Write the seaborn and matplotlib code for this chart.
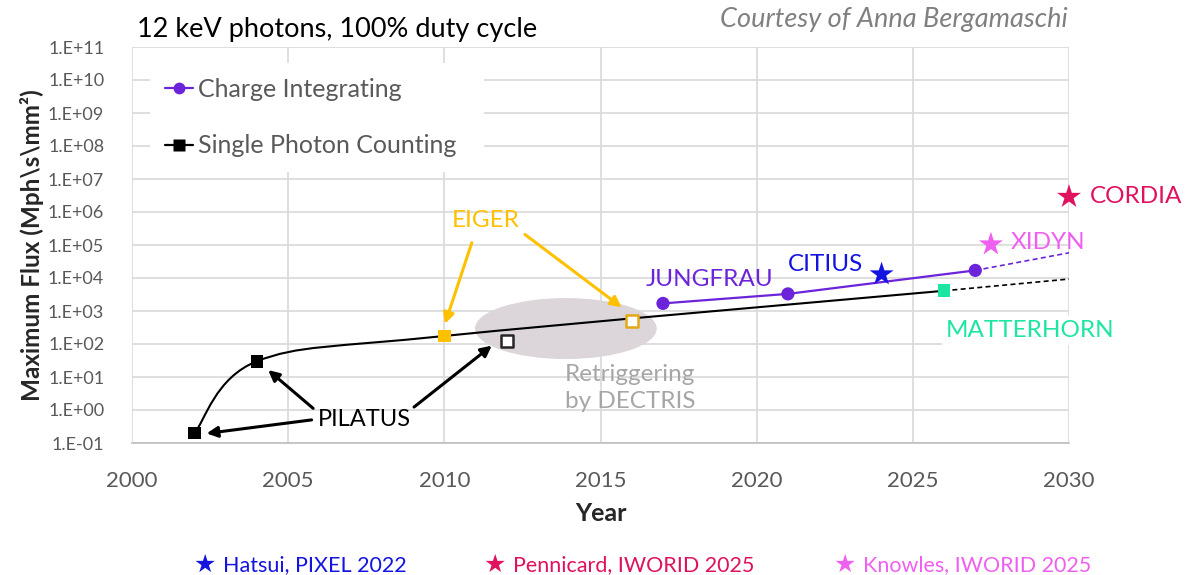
import numpy as np
import pandas as pd
import matplotlib
matplotlib.use('Agg')
import matplotlib.pyplot as plt
from matplotlib.path import Path
from matplotlib.patches import PathPatch, Ellipse
from matplotlib.lines import Line2D
from matplotlib.ticker import FixedLocator, NullLocator
import seaborn as sns

# -----------------------------------------------------------
# Data
# -----------------------------------------------------------
spc_years = [2002, 2004, 2010, 2026]
spc_flux = [0.2, 30, 175, 4100]
spc_names = ['PILATUS', 'PILATUS', 'EIGER', 'MATTERHORN']
spc_ext_years = [2026, 2030]
spc_ext_flux = [4100, 9300]

ci_years = [2017, 2021, 2027]
ci_flux = [1700, 3300, 17000]
ci_ext_years = [2027, 2030]
ci_ext_flux = [17000, 58000]

retrig_years = [2012, 2016]
retrig_flux = [125, 500]

star_names = ['CITIUS', 'CORDIA', 'XIDYN']
star_years = [2024, 2030, 2027.5]
star_flux = [13000, 2.9e6, 105000]
star_refs = ['Hatsui, PIXEL 2022', 'Pennicard, IWORID 2025', 'Knowles, IWORID 2025']

y_exponents = list(range(-1, 12))
x_ticks = [2000, 2005, 2010, 2015, 2020, 2025, 2030]

# colours
purple = '#6C24DA'
orange = '#FFC000'
green = '#1DE6A2'
blue = '#1414E0'
crimson = '#E0115F'
pink = '#F060F0'
txt_gray = '#595959'

name_colors = {'PILATUS': 'black', 'EIGER': orange, 'MATTERHORN': green,
               'CITIUS': blue, 'XIDYN': pink, 'CORDIA': crimson}


def smooth_path(xs, ys):
    # Excel-like smoothed line: cubic Bezier pieces built in (x, log10 y)
    px = np.asarray(xs, float)
    py = np.log10(ys)
    n = len(px)
    verts = [(px[0], py[0])]
    codes = [Path.MOVETO]
    for i in range(n - 1):
        i0 = max(i - 1, 0)
        i3 = min(i + 2, n - 1)
        c1 = (px[i] + (px[i + 1] - px[i0]) / 6, py[i] + (py[i + 1] - py[i0]) / 6)
        c2 = (px[i + 1] - (px[i3] - px[i]) / 6, py[i + 1] - (py[i3] - py[i]) / 6)
        verts += [c1, c2, (px[i + 1], py[i + 1])]
        codes += [Path.CURVE4] * 3
    verts = [(x, 10 ** y) for x, y in verts]
    return Path(verts, codes)


# -----------------------------------------------------------
# Figure
# -----------------------------------------------------------
sns.set_style('whitegrid')
plt.rcParams['font.family'] = ['Lato', 'DejaVu Sans']

fig = plt.figure(figsize=(11.85, 5.75), dpi=100)
ax = fig.add_axes([132 / 1185, 1 - 443 / 575, 937 / 1185, 396 / 575])
ax.set_yscale('log')
ax.set_xlim(2000, 2030)
ax.set_ylim(0.1, 1e11)

# grey "retriggering" ellipse
ax.add_patch(Ellipse((0.463, 0.289), 0.194, 0.154, transform=ax.transAxes,
                     facecolor='#DCD6DA', edgecolor='none', zorder=1))

# single photon counting: smoothed line + dashed extension
ax.add_patch(PathPatch(smooth_path(spc_years, spc_flux), facecolor='none',
                       edgecolor='black', lw=1.5, zorder=3))
sns.lineplot(x=spc_ext_years, y=spc_ext_flux, color='black', lw=1.2,
             linestyle=(0, (3, 2)), ax=ax, zorder=3)

# charge integrating
sns.lineplot(x=ci_years, y=ci_flux, color=purple, lw=1.6, ax=ax, zorder=3)
sns.lineplot(x=ci_ext_years, y=ci_ext_flux, color=purple, lw=1.2,
             linestyle=(0, (3, 2)), ax=ax, zorder=3)
sns.scatterplot(x=ci_years, y=ci_flux, color=purple, s=90, edgecolor='none',
                marker='o', ax=ax, zorder=5)

spc_df = pd.DataFrame({'year': spc_years, 'flux': spc_flux, 'name': spc_names})
sns.scatterplot(data=spc_df, x='year', y='flux', hue='name', palette=name_colors,
                marker='s', s=85, edgecolor='none', legend=False, ax=ax, zorder=5)
sns.scatterplot(x=retrig_years, y=retrig_flux, marker='s', s=70, color='white',
                edgecolor=['#262626', '#E3A814'], linewidth=1.8, ax=ax, zorder=5)

star_df = pd.DataFrame({'year': star_years, 'flux': star_flux, 'name': star_names})
sns.scatterplot(data=star_df, x='year', y='flux', hue='name', palette=name_colors,
                marker='*', s=330, edgecolor='none', legend=False, ax=ax,
                zorder=6, clip_on=False)

# -----------------------------------------------------------
# Axes styling
# -----------------------------------------------------------
ax.yaxis.set_major_locator(FixedLocator([10.0 ** k for k in y_exponents]))
ax.yaxis.set_minor_locator(NullLocator())
ax.set_yticklabels([f'1.E{k:+03d}' for k in y_exponents])
ax.set_xticks(x_ticks)
ax.set_xticklabels([str(t) for t in x_ticks])
ax.tick_params(axis='y', length=0, pad=20, labelsize=13, labelcolor=txt_gray)
ax.tick_params(axis='x', length=0, pad=20, labelsize=16, labelcolor=txt_gray)
ax.grid(True, color='#D9D9D9', lw=1.2)
for side in ['left', 'right', 'top']:
    ax.spines[side].set_visible(False)
ax.spines['bottom'].set_color('#BFBFBF')
ax.spines['bottom'].set_linewidth(1.2)

ax.set_xlabel('Year', fontsize=18, fontweight='bold', labelpad=8)
ax.set_ylabel('Maximum Flux (Mph\\s\\mm²)', fontsize=17.5, fontweight='bold', labelpad=3)

# legend (white box hides the grid behind it)
handles = [Line2D([0], [0], color=purple, lw=1.6, marker='o', ms=8.5, mec='none'),
           Line2D([0], [0], color='black', lw=1.6, marker='s', ms=8, mec='none')]
leg = ax.legend(handles, ['Charge Integrating', 'Single Photon Counting  '],
                loc='upper left', bbox_to_anchor=(150 / 1185, 1 - 63 / 575),
                bbox_transform=fig.transFigure, fontsize=18, labelcolor=txt_gray,
                frameon=True, facecolor='white', edgecolor='none', framealpha=1,
                fancybox=False, handlelength=1.1, handletextpad=0.2,
                labelspacing=1.33, borderpad=0.6, borderaxespad=0)
leg.set_zorder(10)

# -----------------------------------------------------------
# Annotations
# -----------------------------------------------------------
lab_fs = 17.5
ax.text(2018.5, 8700, 'JUNGFRAU', color=purple, fontsize=lab_fs, ha='center', va='center', zorder=7)
ax.text(2022.2, 25000, 'CITIUS', color=blue, fontsize=lab_fs, ha='center', va='center', zorder=7)
ax.text(2028.15, 1.15e5, 'XIDYN', color=pink, fontsize=lab_fs, ha='left', va='center', zorder=7)
ax.text(2030.67, 3.0e6, 'CORDIA', color=crimson, fontsize=lab_fs, ha='left', va='center',
        zorder=7, clip_on=False)
ax.text(2026.06, 250, 'MATTERHORN', color=green, fontsize=lab_fs, ha='left', va='center',
        zorder=7, clip_on=False,
        bbox=dict(facecolor='white', edgecolor='none', pad=3))
ax.text(2013.87, 4.7, 'Retriggering\nby DECTRIS', color='#A6A6A6', fontsize=lab_fs,
        ha='left', va='center', linespacing=1.35, zorder=7)

arrow_kw = dict(arrowstyle='-|>', lw=2.2, mutation_scale=16, shrinkA=0, shrinkB=0)
ax.text(2011.33, 5.4e5, 'EIGER', color=orange, fontsize=lab_fs, ha='center', va='center', zorder=7)
ax.annotate('', xy=(2010.02, 10 ** 2.61), xytext=(2010.88, 10 ** 5.07),
            arrowprops=dict(color=orange, **arrow_kw), zorder=7)
ax.annotate('', xy=(2015.68, 10 ** 3.11), xytext=(2012.58, 10 ** 5.32),
            arrowprops=dict(color=orange, **arrow_kw), zorder=7)

ax.text(2005.96, 0.5, 'PILATUS', color='black', fontsize=17, ha='left', va='center', zorder=7)
ax.annotate('', xy=(2002.39, 10 ** -0.71), xytext=(2005.75, 10 ** -0.30),
            arrowprops=dict(color='black', **arrow_kw), zorder=7)
ax.annotate('', xy=(2004.36, 10 ** 1.21), xytext=(2005.80, 10 ** 0.05),
            arrowprops=dict(color='black', **arrow_kw), zorder=7)
ax.annotate('', xy=(2011.52, 10 ** 1.95), xytext=(2009.03, 10 ** 0.09),
            arrowprops=dict(color='black', **arrow_kw), zorder=7)

# titles
fig.text(137 / 1185, 1 - 30 / 575, '12 keV photons, 100% duty cycle', fontsize=19.5,
         ha='left', va='center', color='black')
fig.text(1068 / 1185, 1 - 20 / 575, 'Courtesy of Anna Bergamaschi', fontsize=19.5,
         style='italic', ha='right', va='center', color='#808080')

# reference notes at the bottom
note_x = [193, 483, 833]
for name, ref, x in zip(star_names, star_refs, note_x):
    fig.text(x / 1185, 1 - 565 / 575, '★', fontsize=18, color=name_colors[name],
             family='DejaVu Sans', ha='left', va='center')
    fig.text((x + 30) / 1185, 1 - 565 / 575, ref, fontsize=15.5, color=name_colors[name],
             ha='left', va='center')

fig.savefig('out.png', dpi=100)
